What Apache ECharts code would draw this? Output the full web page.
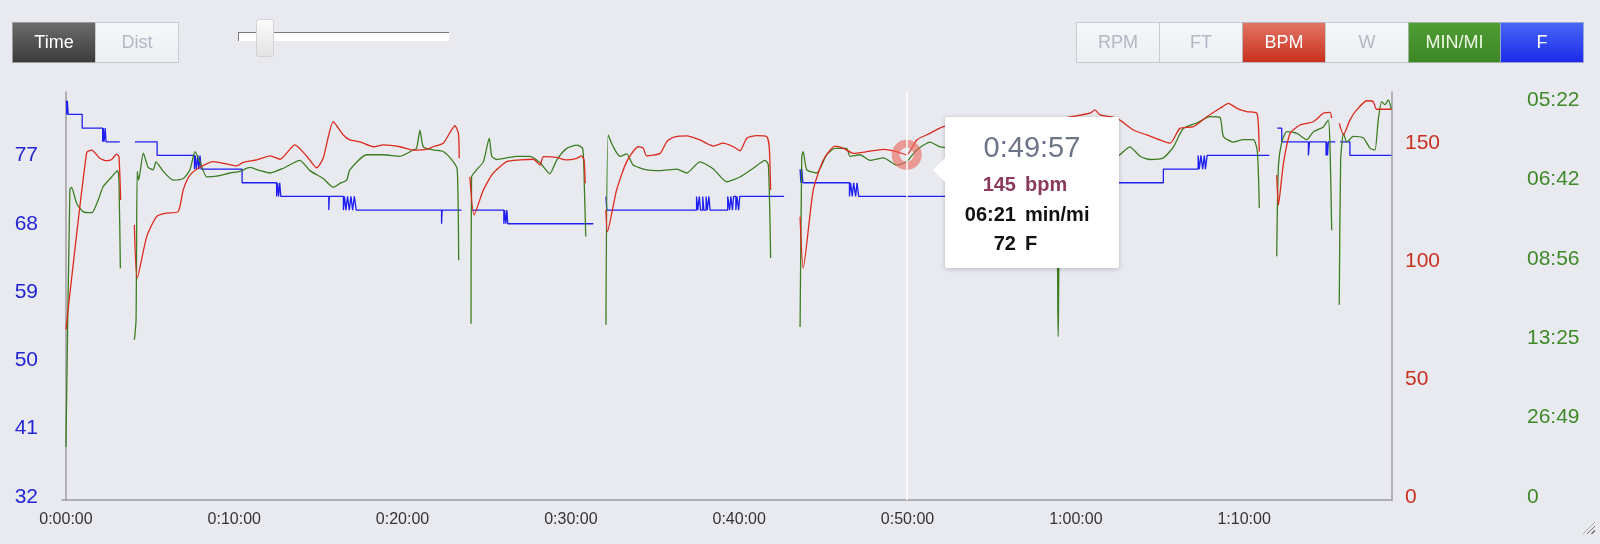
<!DOCTYPE html>
<html>
<head>
<meta charset="utf-8">
<title>Workout</title>
<script src="https://cdn.jsdelivr.net/npm/echarts@6/dist/echarts.min.js"></script>
<style>
  html, body { margin: 0; padding: 0; background: #e9eaf0; }
  #wrap { position: relative; width: 1600px; height: 544px; overflow: hidden;
    font-family: "Helvetica Neue", Helvetica, Arial, "Liberation Sans", sans-serif; }
  #chart { position: absolute; left: 0; top: 0; width: 1600px; height: 544px; }
  .group { position: absolute; top: 22px; display: flex; z-index: 5; }
  .group div { height: 41px; line-height: 39px; text-align: center; font-size: 18px; box-sizing: border-box;
    border: 1px solid #c8cad4; margin-left: -1px; background: linear-gradient(#f6f7f9, #eceef2); color: #b4b7c4; }
  .group .on-dark { background: linear-gradient(#6b6b6b, #3c3c3c); color: #fff; border-color: #9a9a9a; }
  .group .on-red { background: linear-gradient(#e27565, #c9301d); color: #fff; border-color: #b9b3bd; }
  .group .on-green { background: linear-gradient(#4f9d34, #3d8726); color: #eef7e4; border-color: #9fb39a; }
  .group .on-blue { background: linear-gradient(#4767f7, #1d2ae9); color: #fff; border-color: #9aa3d8; }
  #track { position: absolute; left: 238px; top: 32px; width: 211px; height: 9px; background: #fff;
    border-top: 1px solid #7a7a7a; border-left: 1px solid #7a7a7a; box-sizing: border-box; z-index: 5; }
  #thumb { position: absolute; left: 256px; top: 19px; width: 18px; height: 38px; box-sizing: border-box;
    background: linear-gradient(#fbfbfb, #e3e3e3); border: 1px solid #d2d2d6; border-radius: 3px; z-index: 6; }
  #grip { position: absolute; left: 1583px; top: 522px; width: 12px; height: 12px; z-index: 5;
    background: repeating-linear-gradient(135deg, transparent 0 2px, #777 2px 3px);
    clip-path: polygon(100% 0, 100% 100%, 0 100%); }
</style>
</head>
<body>
<div id="wrap">
  <div id="chart"></div>
  <div class="group" style="left:13px">
    <div class="on-dark" style="width:84px">Time</div>
    <div style="width:84px">Dist</div>
  </div>
  <div id="track"></div>
  <div id="thumb"></div>
  <div class="group" style="left:1077px">
    <div style="width:84px">RPM</div>
    <div style="width:84px">FT</div>
    <div class="on-red" style="width:84px">BPM</div>
    <div style="width:84px">W</div>
    <div class="on-green" style="width:93px">MIN/MI</div>
    <div class="on-blue" style="width:84px">F</div>
  </div>
  <div id="grip"></div>
</div>

<script>
// elapsed time in seconds, null value = recording paused
const hrTime = [
  0, 74, 92, 121, 145, 163, 181, 189, 195, 220,
  244, 254, 288, 323, 353, 400, 418, 442, 478, 525, 573, 609, 632, 680, 728, 763, 816, 858, 894, 917, 953, 989,
  1012, 1048, 1096, 1131, 1191, 1237, 1286, 1309, 1345, 1387, 1399, 1402, 1420,
  1440, 1455, 1488, 1523, 1571, 1619, 1666, 1690, 1702, 1749, 1785, 1821, 1838, 1847, 1851, 1890,
  1925, 1930, 1963, 1999, 2040, 2058, 2070, 2118, 2142, 2165, 2213, 2260, 2308, 2343, 2379, 2403, 2427, 2462,
  2498, 2507, 2512, 2560,
  2617, 2628, 2664, 2700, 2741, 2771, 2807, 2855, 2914, 2961, 2997, 3033, 3080, 3128, 3258, 3437, 3544, 3651,
  3668, 3686, 3746, 3805, 3853, 3900, 3936, 3971, 4019, 4067, 4114, 4144, 4174, 4209, 4245, 4251, 4254, 4290,
  4316, 4322, 4340, 4364, 4399, 4447, 4482, 4506, 4512, 4525,
  4539, 4554, 4577, 4601, 4637, 4660, 4672, 4725
]
const hrBpm = [
  71, 146, 147, 143.5, 142.5, 143, 145.3, 144.2, 125.8, null,
  115.3, 92.7, 110.3, 118.8, 120.2, 120.9, 130.1, 136.4, 139.7, 142.1, 141.1, 140.3, 141.8, 142.8, 144.5, 143.1, 149.2, 144.5, 139.5, 143.5, 159, 153.4,
  151.3, 150.5, 148.4, 149.2, 148.4, 147, 147.3, 148.4, 149.9, 157.3, 154.1, 143.5, null,
  135.7, 119.5, 130.1, 137.2, 142.1, 142.8, 143.1, 140.7, 144.2, 143.9, 142.8, 143.5, 144.5, 142.8, 132.9, null,
  121.6, 112.4, 130.1, 142.1, 148.4, 147.8, 144.5, 145.6, 150.6, 152.4, 153, 151.3, 148.7, 149.9, 148.4, 146.7, 152, 153.1,
  152.7, 148.4, 130.1, null,
  118.8, 96.9, 130.1, 142.8, 148.7, 147.8, 145.6, 146.3, 147.3, 146.3, 145, 151.3, 154.1, 156.9, 158.9, 160.6, 160.6, 162.6,
  164, 161.9, 160.5, 155.5, 153.4, 151.3, 149.9, 156.2, 156.9, 161.1, 164.7, 166.8, 164.7, 163.3, 162.6, 156.9, 146.3, null,
  136.4, 123.7, 141.4, 154.1, 157.6, 159, 162.6, 163, 160.5, null,
  158.3, 153.4, 159.7, 164, 167.9, 167.5, 164.3, 164.3
]

// speed in m/s, shown on the axis as min/mi
const paceTime = [
  0, 14, 20, 38, 62, 92, 115, 133, 163, 184, 189, 194, 220,
  244, 250, 254, 259, 276, 293, 311, 321, 347, 383, 418, 442, 460, 478, 502, 537, 585, 620, 656, 692, 727, 775,
  834, 870, 917, 953, 977, 1001, 1012, 1072, 1131, 1191, 1238, 1250, 1262, 1274, 1309, 1345, 1381, 1395, 1400, 1420,
  1444, 1446, 1464, 1488, 1509, 1518, 1535, 1571, 1607, 1654, 1690, 1725, 1749, 1785, 1821, 1842, 1848, 1853, 1890,
  1925, 1933, 1951, 1975, 1999, 2022, 2070, 2118, 2177, 2213, 2260, 2308, 2355, 2403, 2450, 2492, 2504, 2512, 2560,
  2617, 2623, 2628, 2641, 2676, 2712, 2741, 2783, 2795, 2831, 2866, 2914, 2961, 2997, 3033, 3080, 3116, 3258, 3437,
  3526, 3537, 3547, 3651, 3704, 3751, 3793, 3829, 3865, 3912, 3948, 3983, 4031, 4078, 4114, 4126, 4161, 4197, 4233,
  4247, 4254, 4290,
  4316, 4322, 4334, 4352, 4388, 4423, 4447, 4482, 4500, 4506, 4512, 4525,
  4539, 4544, 4554, 4566, 4589, 4625, 4649, 4666, 4678, 4690, 4702, 4714, 4725
]
const speedMs = [
  0.63, 3.87, 3.9, 3.7, 3.59, 3.58, 3.74, 3.91, 4.03, 4.11, 3.99, 2.88, null,
  1.98, 2.23, 4.1, 3.99, 4.33, 4.15, 4.12, 4.22, 4.1, 3.99, 4.01, 4.12, 4.35, 4.22, 4.03, 4.04, 4.08, 4.1, 4.15, 4.11, 4.08, 4.14,
  4.24, 4.11, 4.01, 3.9, 3.95, 3.99, 4.12, 4.31, 4.31, 4.29, 4.37, 4.39, 4.62, 4.41, 4.37, 4.35, 4.22, 4.12, 2.98, null,
  2.18, 4.03, 4.12, 4.22, 4.52, 4.29, 4.25, 4.27, 4.29, 4.29, 4.21, 4.07, 4.24, 4.39, 4.43, 4.39, 3.91, 3.28, null,
  2.17, 4.56, 4.41, 4.29, 4.32, 4.18, 4.12, 4.11, 4.13, 4.08, 4.22, 4.13, 3.97, 4.03, 4.14, 4.24, 4.18, 3.01, null,
  2.14, 4.29, 4.35, 4.12, 4.08, 4.31, 4.39, 4.39, 4.29, 4.31, 4.24, 4.27, 4.18, 4.224, 4.37, 4.47, 4.41, 4.37, 4.31,
  4.27, 2.02, 3.74, 4.06, 4.18, 4.29, 4.41, 4.29, 4.25, 4.27, 4.41, 4.64, 4.71, 4.79, 4.78, 4.54, 4.47, 4.5, 4.5,
  4.35, 3.64, null,
  3.03, 4.16, 4.47, 4.6, 4.58, 4.5, 4.6, 4.66, 4.75, 4.41, 3.36, null,
  2.42, 4.24, 4.58, 4.47, 4.54, 4.52, 4.39, 4.37, 4.75, 4.98, 4.94, 5.0, 4.88
]

// temperature in F, each entry is where the reading changes
const tempTime = [
  2, 3, 5, 8, 58, 131, 133, 136, 140, 143, 192, 193,
  246, 325, 458, 461, 465, 470, 474, 478, 482, 628, 751, 754, 758, 762, 766, 937, 939, 989, 993, 998, 1004, 1010,
  1016, 1022, 1028, 1035, 1339, 1341, 1399, 1410,
  1444, 1561, 1564, 1568, 1572, 1575, 1850, 1880,
  1925, 1928, 2248, 2252, 2258, 2262, 2270, 2274, 2282, 2286, 2292, 2296, 2359, 2366, 2370, 2376, 2380, 2388, 2392,
  2398, 2402, 2510, 2560,
  2617, 2620, 2623, 2627, 2793, 2797, 2803, 2808, 2815, 2820, 2826, 3500, 3912, 4036, 4040, 4046, 4052, 4058, 4062,
  4068, 4251, 4290,
  4318, 4334, 4429, 4433, 4492, 4494, 4497, 4500, 4512, 4525,
  4542, 4577, 4725
]
const tempF = [
  84.2, 82.4, 84.2, 82.4, 80.6, 78.8, 80.6, 78.8, 80.6, 78.8, 78.8, null,
  78.8, 77, 75.2, 77, 75.2, 77, 75.2, 77, 75.2, 73.4, 71.6, 73.4, 71.6, 73.4, 71.6, 69.8, 71.6, 69.8, 71.6, 69.8, 71.6, 69.8,
  71.6, 69.8, 71.6, 69.8, 68, 69.8, 69.8, null,
  69.8, 68, 69.8, 68, 69.8, 68, 68, null,
  71.6, 69.8, 71.6, 69.8, 71.6, 69.8, 71.6, 69.8, 71.6, 69.8, 71.6, 69.8, 71.6, 69.8, 71.6, 69.8, 71.6, 69.8, 71.6,
  69.8, 71.6, 71.6, null,
  75.2, 73.4, 75.2, 73.4, 71.6, 73.4, 71.6, 73.4, 71.6, 73.4, 71.6, 73.4, 75.2, 77, 75.2, 77, 75.2, 77, 75.2,
  77, 77, null,
  80.6, 78.8, 77, 78.8, 77, 78.8, 77, 78.8, 78.8, null,
  78.8, 77, 77
]

// axis labels
const timeTicks = [0, 600, 1200, 1800, 2400, 3000, 3600, 4200]
const tempTicks = [32, 41, 50, 59, 68, 77]
const hrTicks = [0, 50, 100, 150]
const speedTicks = [0, 1, 2, 3, 4, 5]

const cursorTime = 2997

function pad(n) {
  return (n < 10 ? '0' : '') + n
}
function fmtClock(sec) {
  const h = Math.floor(sec / 3600)
  const m = Math.floor((sec % 3600) / 60)
  return h + ':' + pad(m) + ':' + pad(Math.round(sec % 60))
}
function fmtPace(speed) {
  if (speed <= 0) return '0'
  const s = Math.round(1609.344 / speed)
  return pad(Math.floor(s / 60)) + ':' + pad(s % 60)
}
function pairs(times, vals) {
  return times.map((t, i) => [t, vals[i] == null ? '-' : vals[i]])
}
function tempAt(t) {
  let v = null
  tempTime.forEach((tt, i) => {
    if (tt <= t && tempF[i] != null) v = tempF[i]
  })
  return v
}

const chart = echarts.init(document.getElementById('chart'))

const labelFont = '"Helvetica Neue", Helvetica, Arial, sans-serif'
const axisGray = '#9c9da3'

const option = {
  animation: false,
  grid: { left: 62, right: 208, top: 92, bottom: 44 },
  tooltip: {
    trigger: 'axis',
    triggerOn: 'none',
    alwaysShowContent: true,
    transitionDuration: 0,
    backgroundColor: '#fff',
    borderWidth: 0,
    padding: 0,
    extraCssText: 'box-shadow: 0 1px 5px rgba(0,0,0,0.22); border-radius: 2px;',
    axisPointer: {
      type: 'line',
      animation: false,
      label: { show: false },
      lineStyle: { color: '#ffffff', width: 1.5, type: 'solid' }
    },
    position: function() {
      const x = chart.convertToPixel({ xAxisIndex: 0 }, cursorTime)
      return [x + 38, 117]
    },
    formatter: function() {
      const i = hrTime.indexOf(cursorTime)
      const j = paceTime.indexOf(cursorTime)
      const rowStyle = 'height:29.5px;font-weight:bold;font-size:20px;'
      return '<div style="position:relative;width:174px;height:151px;font-family:' + labelFont.replace(/"/g, "'") + '">' +
        '<div style="position:absolute;left:-12px;top:41px;width:0;height:0;border-top:12px solid transparent;' +
        'border-bottom:12px solid transparent;border-right:12px solid #fff;"></div>' +
        '<div style="position:absolute;left:0;top:13px;width:174px;text-align:center;font-size:29px;line-height:34px;color:#6c7488;">' +
        fmtClock(cursorTime) + '</div>' +
        '<table style="position:absolute;left:0;top:53px;border-collapse:collapse;">' +
        '<tr style="' + rowStyle + 'color:#8b3a5c"><td style="width:71px;text-align:right;padding:0">' + Math.round(hrBpm[i]) +
        '</td><td style="padding:0 0 0 9px">bpm</td></tr>' +
        '<tr style="' + rowStyle + 'color:#111"><td style="text-align:right;padding:0">' + fmtPace(speedMs[j]) +
        '</td><td style="padding:0 0 0 9px">min/mi</td></tr>' +
        '<tr style="' + rowStyle + 'color:#111"><td style="text-align:right;padding:0">' + Math.round(tempAt(cursorTime)) +
        '</td><td style="padding:0 0 0 9px">F</td></tr>' +
        '</table></div>'
    }
  },
  xAxis: {
    type: 'value',
    min: -14,
    max: 4727,
    axisLine: { onZero: false, lineStyle: { color: axisGray, width: 1.5 } },
    axisTick: { show: false },
    splitLine: { show: false },
    axisLabel: {
      customValues: timeTicks,
      formatter: fmtClock,
      color: '#333',
      fontSize: 16,
      fontFamily: labelFont,
      margin: 12
    }
  },
  yAxis: [
    {
      type: 'value',
      position: 'left',
      min: 31.6,
      max: 85.36,
      axisLine: { show: true, lineStyle: { color: axisGray, width: 1.5 } },
      axisTick: { show: false },
      splitLine: { show: false },
      axisLabel: { customValues: tempTicks, color: '#2424d6', fontSize: 21, fontFamily: labelFont, margin: 24 }
    },
    {
      type: 'value',
      position: 'right',
      min: -1.27,
      max: 171.6,
      axisLine: { show: true, lineStyle: { color: axisGray, width: 1.5 } },
      axisTick: { show: false },
      splitLine: { show: false },
      axisLabel: { customValues: hrTicks, color: '#c9301f', fontSize: 21, fontFamily: labelFont, margin: 13 }
    },
    {
      type: 'value',
      position: 'right',
      offset: 122,
      min: -0.038,
      max: 5.1,
      axisLine: { show: false },
      axisTick: { show: false },
      splitLine: { show: false },
      axisLabel: { customValues: speedTicks, formatter: fmtPace, color: '#3e8a28', fontSize: 21, fontFamily: labelFont, margin: 13 }
    }
  ],
  series: [
    {
      name: 'F',
      type: 'line',
      yAxisIndex: 0,
      step: 'end',
      symbol: 'none',
      emphasis: { disabled: true },
      lineStyle: { color: '#1f1ff2', width: 1.3 },
      data: pairs(tempTime, tempF)
    },
    {
      name: 'MIN/MI',
      type: 'line',
      yAxisIndex: 2,
      symbol: 'none',
      smooth: 0.2,
      emphasis: { disabled: true },
      lineStyle: { color: '#3b7d21', width: 1.3 },
      data: pairs(paceTime, speedMs)
    },
    {
      name: 'BPM',
      type: 'line',
      yAxisIndex: 1,
      symbol: 'none',
      smooth: 0.2,
      emphasis: { disabled: true },
      lineStyle: { color: '#dc2a1c', width: 1.3 },
      markPoint: {
        symbol: 'circle',
        symbolSize: 22,
        silent: true,
        label: { show: false },
        itemStyle: { color: 'rgba(0,0,0,0)', borderColor: 'rgba(234,104,92,0.62)', borderWidth: 8 },
        data: [{ coord: [cursorTime, hrBpm[hrTime.indexOf(cursorTime)]] }]
      },
      data: pairs(hrTime, hrBpm)
    }
  ]
}

chart.setOption(option)
chart.dispatchAction({ type: 'showTip', seriesIndex: 2, dataIndex: hrTime.indexOf(cursorTime) })
</script>
</body>
</html>
